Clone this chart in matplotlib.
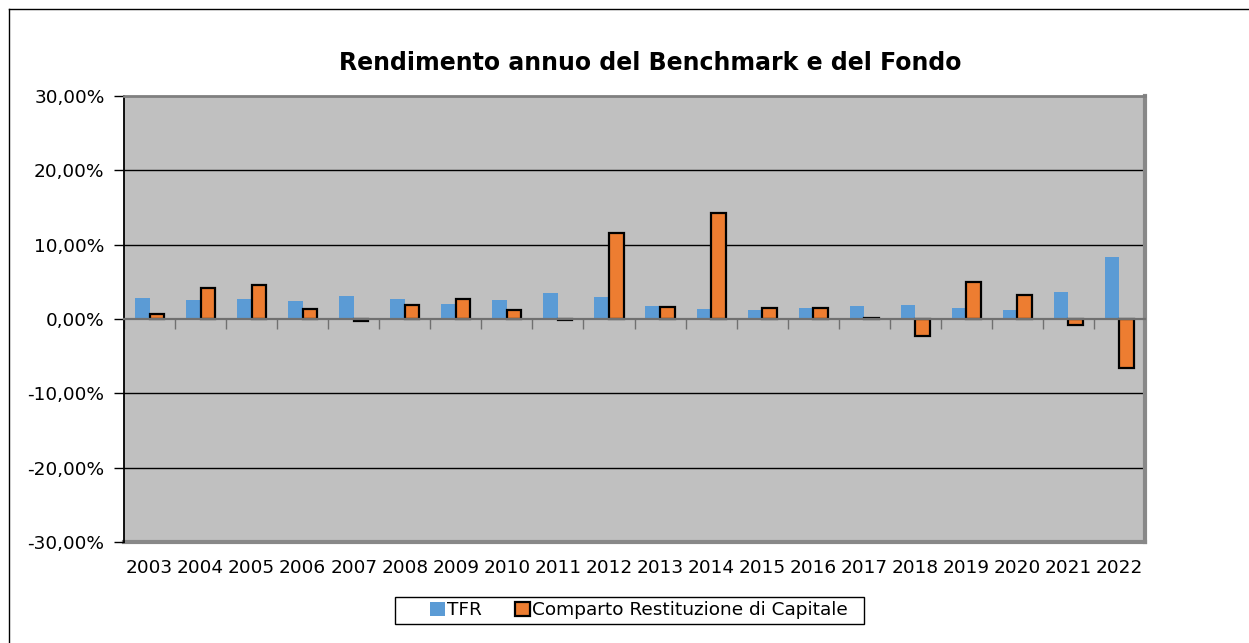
import numpy as np
import matplotlib
matplotlib.use("Agg")
from matplotlib import pyplot as plt
from matplotlib.lines import Line2D
from matplotlib.patches import Rectangle
from matplotlib.ticker import FuncFormatter

years = ["2003", "2004", "2005", "2006", "2007", "2008", "2009", "2010", "2011", "2012",
         "2013", "2014", "2015", "2016", "2017", "2018", "2019", "2020", "2021", "2022"]
tfr = [2.80, 2.49, 2.69, 2.44, 3.11, 2.70, 2.00, 2.61, 3.45, 2.94,
       1.71, 1.34, 1.25, 1.49, 1.74, 1.86, 1.49, 1.25, 3.62, 8.28]
comparto = [0.62, 4.15, 4.60, 1.30, -0.25, 1.84, 2.72, 1.17, -0.20, 11.55,
            1.60, 14.30, 1.48, 1.50, 0.20, -2.25, 5.00, 3.28, -0.75, -6.55]
y_ticks = [-30, -20, -10, 0, 10, 20, 30]

TXT = 13.3
W, H = 1249, 643


def pct(v, pos):
    return ("%.2f%%" % v).replace(".", ",")


def main():
    plt.rcParams["font.family"] = ["DejaVu Sans"]
    fig = plt.figure(figsize=(12.49, 6.43), dpi=100)
    ax = fig.add_axes([124 / W, 101 / H, 1021 / W, 446 / H])
    ax.set_facecolor("#C0C0C0")

    x = np.arange(len(years))
    w = 0.285
    ax.bar(x - w / 2, tfr, w, color="#5B9BD5", label="TFR", zorder=3)
    ax.bar(x + w / 2, comparto, w, color="#ED7D31", edgecolor="black",
           linewidth=1.6, label="Comparto Restituzione di Capitale", zorder=3)

    ax.set_xlim(-0.5, len(years) - 0.5)
    ax.set_ylim(-30, 30)
    ax.set_yticks(y_ticks)
    ax.yaxis.set_major_formatter(FuncFormatter(pct))
    ax.tick_params(axis="y", direction="out", length=7, width=1, labelsize=TXT, pad=7)
    for v in [-20, -10, 10, 20]:
        ax.axhline(v, color="black", linewidth=1, zorder=1)

    # zero line with category-boundary ticks
    ax.spines["bottom"].set_position(("data", 0))
    ax.spines["bottom"].set_color("#707070")
    ax.spines["bottom"].set_linewidth(1.6)
    ax.spines["bottom"].set_zorder(4)
    ax.set_xticks(np.arange(len(years) + 1) - 0.5)
    ax.tick_params(axis="x", direction="out", length=7, width=1, color="#707070",
                   labelbottom=False)

    ax.spines["left"].set_color("black")
    ax.spines["left"].set_linewidth(1.3)
    ax.spines["top"].set_color("#808080")
    ax.spines["top"].set_linewidth(2)
    ax.spines["right"].set_color("#888888")
    ax.spines["right"].set_linewidth(3)

    sec = ax.secondary_xaxis(0)
    sec.set_xticks(x)
    sec.set_xticklabels(years)
    sec.tick_params(length=0, labelsize=TXT, pad=12)
    sec.spines["bottom"].set_color("#888888")
    sec.spines["bottom"].set_linewidth(3)

    fig.text(0.5205, 1 - 63 / H, "Rendimento annuo del Benchmark e del Fondo",
             ha="center", va="center", fontsize=17, fontweight="bold")

    fig.legend(loc="center", bbox_to_anchor=(639 / W, 1 - 610 / H), ncol=2,
               fontsize=TXT, frameon=False,
               handlelength=0.8, handleheight=0.8, handletextpad=0.15,
               columnspacing=1.76, borderpad=0.25)
    fig.add_artist(Rectangle((395 / W, 1 - 624 / H), 469 / W, 27 / H,
                             transform=fig.transFigure, fill=False,
                             edgecolor="black", linewidth=1))

    # outer chart border (left and top visible)
    fig.add_artist(Line2D([9 / W, 9 / W], [0, 1 - 9 / H], color="black", lw=1))
    fig.add_artist(Line2D([9 / W, 1], [1 - 9 / H, 1 - 9 / H], color="black", lw=1))

    fig.savefig("out.png", dpi=100)


if __name__ == "__main__":
    main()
